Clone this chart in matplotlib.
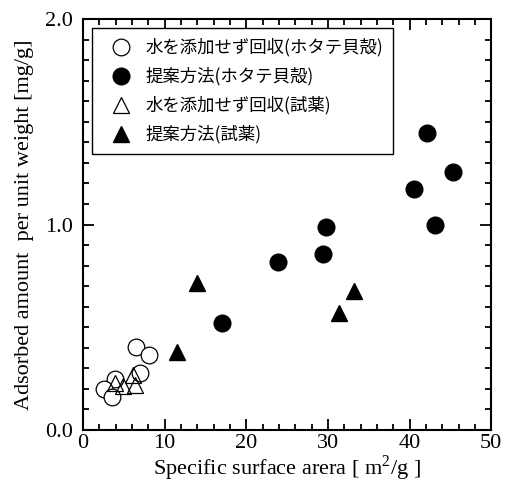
import matplotlib
matplotlib.use("Agg")
import matplotlib.pyplot as plt
from matplotlib.ticker import MultipleLocator

plt.rcParams["mathtext.fontset"] = "custom"
plt.rcParams["mathtext.rm"] = "Liberation Serif"

# Specific surface area [m2/g] and adsorbed amount per unit weight [mg/g]
shell_nowater_x = [6.45, 8.13, 6.99, 3.92, 2.57, 3.6]
shell_nowater_y = [0.402, 0.363, 0.276, 0.247, 0.198, 0.159]

shell_proposed_x = [17.0, 23.9, 29.4, 29.8, 40.6, 42.1, 43.1, 45.3]
shell_proposed_y = [0.519, 0.819, 0.855, 0.986, 1.173, 1.447, 0.999, 1.255]

reagent_nowater_x = [3.92, 4.86, 6.17, 6.37]
reagent_nowater_y = [0.23, 0.214, 0.268, 0.219]

reagent_proposed_x = [11.56, 14.0, 31.4, 33.25]
reagent_proposed_y = [0.381, 0.714, 0.568, 0.678]

labels = ["水を添加せず回収(ホタテ貝殻)", "提案方法(ホタテ貝殻)",
          "水を添加せず回収(試薬)", "提案方法(試薬)"]

serif = ["Liberation Serif", "DejaVu Serif"]
cjk = ["Noto Sans CJK JP", "DejaVu Sans"]

fig = plt.figure(figsize=(5.09, 4.87), dpi=100)
ax = fig.add_axes([0.163, 0.117, 0.802, 0.844])

ms = 12
ax.plot(shell_nowater_x, shell_nowater_y, "o", ms=ms, mfc="white", mec="black",
        mew=0.9, ls="none", label=labels[0])
ax.plot(shell_proposed_x, shell_proposed_y, "o", ms=ms, mfc="black", mec="black",
        ls="none", label=labels[1])
ax.plot(reagent_nowater_x, reagent_nowater_y, "^", ms=ms, mfc="none", mec="black",
        mew=0.9, ls="none", label=labels[2])
ax.plot(reagent_proposed_x, reagent_proposed_y, "^", ms=ms, mfc="black", mec="black",
        ls="none", label=labels[3])

ax.set_xlim(0, 50)
ax.set_ylim(0, 2.0)
ax.xaxis.set_major_locator(MultipleLocator(10))
ax.xaxis.set_minor_locator(MultipleLocator(2))
ax.yaxis.set_major_locator(MultipleLocator(1.0))
ax.yaxis.set_minor_locator(MultipleLocator(0.1))
ax.set_yticks([0.0, 1.0, 2.0])
ax.set_yticklabels(["0.0", "1.0", "2.0"])

ax.tick_params(which="both", direction="in", top=True, right=True,
               width=1.3, labelsize=16)
ax.tick_params(axis="x", which="both", pad=3)
ax.tick_params(axis="y", which="both", pad=7)
ax.tick_params(which="major", length=8)
ax.tick_params(which="minor", length=4)
for lab in ax.get_xticklabels() + ax.get_yticklabels():
    lab.set_family(serif)
for sp in ax.spines.values():
    sp.set_linewidth(1.5)

ax.set_xlabel("Specific surface arera [ m$^2$/g ]", family=serif, fontsize=16,
              labelpad=0)
ax.set_ylabel("Adsorbed amount  per unit weight [mg/g]", family=serif,
              fontsize=16, labelpad=8)

leg = ax.legend(loc="upper left", bbox_to_anchor=(0.022, 0.978), frameon=True,
                fancybox=False, edgecolor="black", framealpha=1,
                prop={"family": cjk, "size": 12.5}, handlelength=2.2,
                handletextpad=0.26, labelspacing=0.6, borderpad=0.6,
                borderaxespad=0)
leg.get_frame().set_linewidth(1.0)

fig.savefig("out.png", dpi=100)
